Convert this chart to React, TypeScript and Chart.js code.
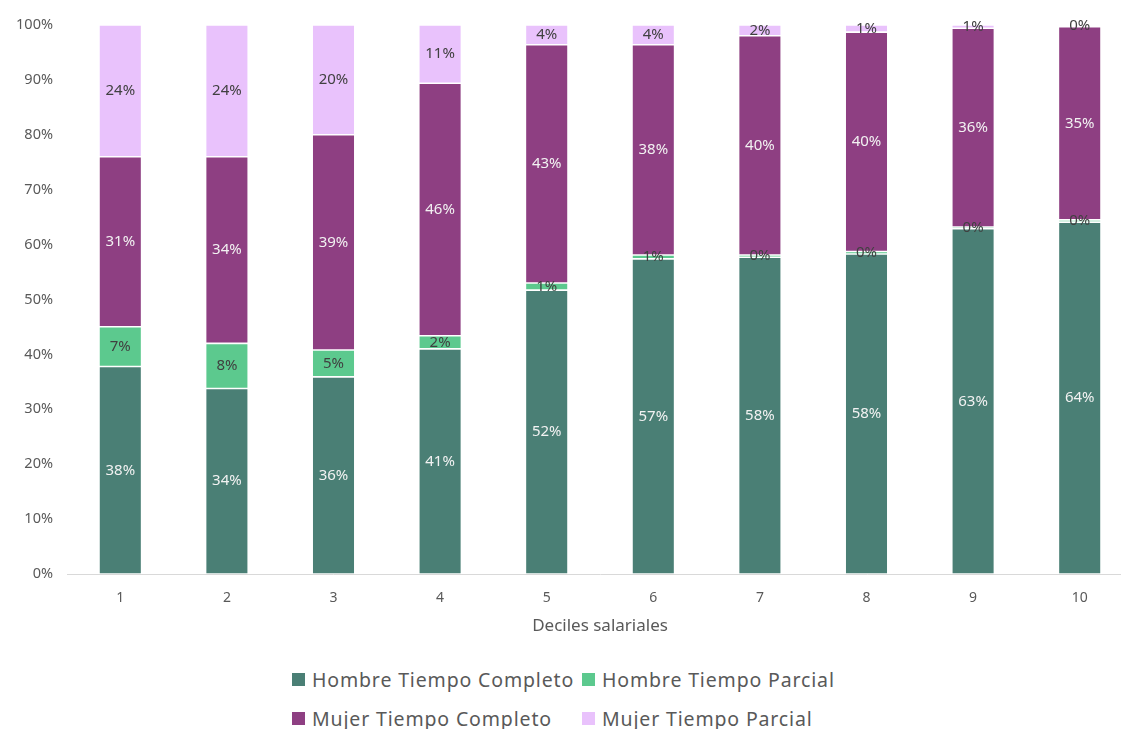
import { useEffect, useRef } from "react";
import { Chart, registerables } from "chart.js";

Chart.register(...registerables);

const deciles = ["1", "2", "3", "4", "5", "6", "7", "8", "9", "10"];
const hombreCompleto = [37.8, 33.8, 35.9, 41.0, 51.7, 57.4, 57.7, 58.3, 62.9, 64.1];
const hombreParcial = [7.25, 8.2, 4.9, 2.4, 1.3, 0.7, 0.4, 0.45, 0.3, 0.4];
const mujerCompleto = [30.95, 34.0, 39.2, 46.0, 43.4, 38.3, 39.95, 39.95, 36.2, 35.2];
const mujerParcial = [24.0, 24.0, 20.0, 10.6, 3.6, 3.6, 1.95, 1.3, 0.6, 0.3];

const seriesNames = [
  "Hombre Tiempo Completo",
  "Hombre Tiempo Parcial",
  "Mujer Tiempo Completo",
  "Mujer Tiempo Parcial",
];
const seriesColors = ["#4A7F75", "#5CC98E", "#8E3F82", "#E9C2FC"];
const labelColors = ["#F2F2F2", "#404040", "#F2F2F2", "#404040"];
const xTitle = "Deciles salariales";

const FONT = "'Noto Sans', sans-serif";

const valueLabels = {
  id: "valueLabels",
  afterDatasetsDraw(chart: any) {
    const ctx = chart.ctx;
    ctx.save();
    ctx.font = `15px ${FONT}`;
    ctx.textAlign = "center";
    ctx.textBaseline = "middle";
    chart.data.datasets.forEach((ds: any, di: number) => {
      const meta = chart.getDatasetMeta(di);
      meta.data.forEach((el: any, i: number) => {
        const v = ds.data[i];
        const y = (el.y + el.base) / 2;
        ctx.fillStyle = labelColors[di];
        ctx.fillText(Math.round(v) + "%", el.x, y);
      });
    });
    ctx.restore();
  },
};

export default function App() {
  const ref = useRef<HTMLCanvasElement>(null);
  useEffect(() => {
    if (!ref.current) return;
    const data = [hombreCompleto, hombreParcial, mujerCompleto, mujerParcial];
    const chart = new Chart(ref.current, {
      type: "bar",
      data: {
        labels: deciles,
        datasets: data.map((d, i) => ({
          label: seriesNames[i],
          data: d,
          backgroundColor: seriesColors[i],
          borderColor: "rgba(255,255,255,0.85)",
          borderWidth: 0.8,
          borderSkipped: false,
          categoryPercentage: 1,
          barPercentage: 0.4,
        })),
      },
      options: {
        animation: false,
        responsive: true,
        maintainAspectRatio: false,
        layout: { padding: { top: 25, left: 7, right: 1, bottom: 0 } },
        plugins: {
          legend: { display: false },
          tooltip: { enabled: false },
        },
        scales: {
          x: {
            stacked: true,
            grid: { display: false, drawTicks: false },
            border: { display: true, color: "#D9D9D9", width: 1 },
            ticks: { color: "#595959", font: { family: FONT, size: 14 }, padding: 16 },
            title: {
              display: true,
              text: xTitle,
              color: "#595959",
              font: { family: FONT, size: 17 },
              padding: { top: 0, bottom: 4 },
            },
            afterFit: (s: any) => {
              s.height = 66;
            },
          },
          y: {
            stacked: true,
            min: 0,
            max: 100,
            grid: { display: false, drawTicks: false },
            border: { display: false },
            ticks: {
              stepSize: 10,
              color: "#595959",
              font: { family: FONT, size: 14.5 },
              padding: 14,
              callback: (v: any) => v + "%",
            },
            afterFit: (s: any) => {
              s.width = 60;
            },
          },
        },
      },
      plugins: [valueLabels],
    });
    return () => chart.destroy();
  }, []);

  return (
    <div
      style={{
        position: "fixed",
        left: 0,
        top: 0,
        width: 1121,
        height: 729,
        overflow: "hidden",
        background: "#FFFFFF",
      }}
    >
      <div style={{ position: "absolute", left: 0, top: 0, width: 1134, height: 640 }}>
        <canvas ref={ref} />
      </div>
      {seriesNames.map((name, i) => (
        <div
          key={name}
          style={{
            position: "absolute",
            left: i % 2 === 0 ? 292 : 582,
            top: i < 2 ? 666 : 705,
            height: 26,
            display: "flex",
            alignItems: "center",
            fontFamily: FONT,
            fontSize: 19.5,
            letterSpacing: 0.85,
            color: "#595959",
            whiteSpace: "nowrap",
          }}
        >
          <span
            style={{
              display: "inline-block",
              width: 13,
              height: 13,
              background: seriesColors[i],
              marginRight: 7,
            }}
          />
          {name}
        </div>
      ))}
    </div>
  );
}
